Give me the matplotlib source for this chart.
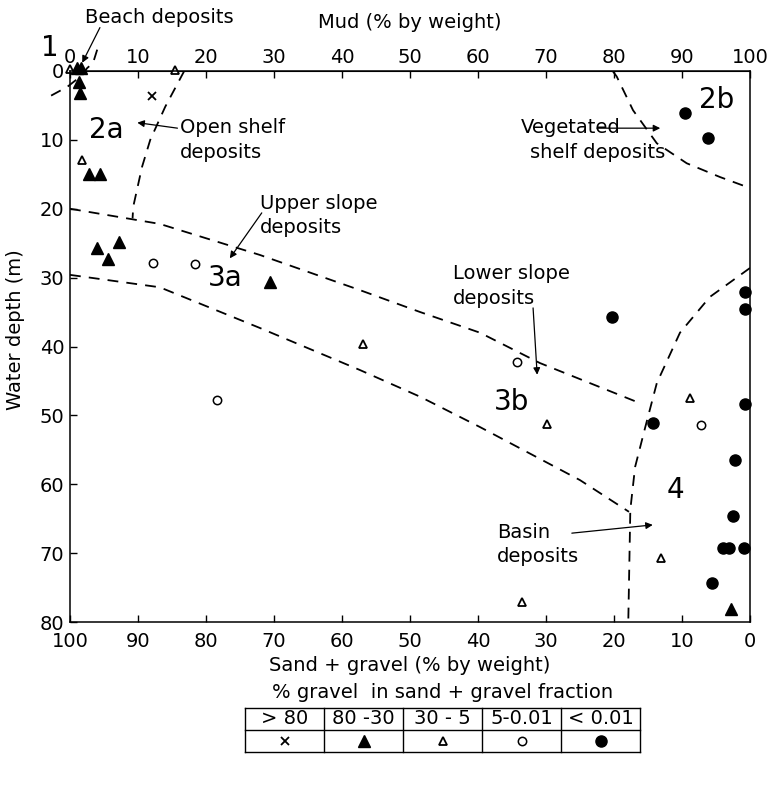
import matplotlib.pyplot as plt
import numpy as np

plt.rcParams['font.family'] = ['DejaVu Sans']

# ---- data: (mud %, water depth m) per gravel class ----
cross_mud = [12.1]
cross_depth = [3.7]

tri_filled_mud = [1.0, 1.6, 1.3, 1.4, 2.8, 4.4, 4.0, 5.6, 7.2, 29.4, 97.2]
tri_filled_depth = [-0.4, -0.4, 1.6, 3.2, 14.9, 14.9, 25.7, 27.3, 24.8, 30.6, 78.1]

tri_open_mud = [0.0, 15.4, 1.7, 43.1, 70.1, 91.2, 86.9, 66.5]
tri_open_depth = [-0.3, -0.2, 12.9, 39.6, 51.3, 47.5, 70.7, 77.1]

circ_open_mud = [12.2, 18.4, 21.6, 65.8, 92.8]
circ_open_depth = [27.9, 28.0, 47.8, 42.2, 51.4]

circ_filled_mud = [90.4, 93.8, 79.7, 99.3, 99.3, 99.3, 85.7, 97.8, 97.5, 96.1, 96.9, 99.1, 94.4]
circ_filled_depth = [6.1, 9.8, 35.7, 32.1, 34.6, 48.4, 51.1, 56.5, 64.6, 69.2, 69.2, 69.2, 74.3]

# ---- facies boundaries (mud %, depth) ----
beach_mud = [4.0, 3.4, 2.5, 1.8, -0.4, -3.2]
beach_depth = [-3.1, -1.2, -0.4, 0.6, 2.3, 3.8]

shelf_mud = [16.8, 14.0, 11.8, 10.6, 9.3, 9.2]
shelf_depth = [0.0, 5.2, 10.0, 13.9, 19.7, 21.4]

veg_mud = [79.8, 80.4, 82.8, 86.3, 90.7, 95.6, 100.0]
veg_depth = [0.0, 0.8, 5.7, 10.5, 13.4, 15.4, 17.0]

upper_mud = [0.0, 13.2, 27.9, 42.6, 51.5, 60.3, 69.1, 84.0]
upper_depth = [20.0, 22.2, 26.7, 31.8, 35.0, 38.0, 42.4, 48.3]

lower_mud = [0.0, 13.2, 27.9, 42.6, 51.5, 60.3, 75.0, 82.2]
lower_depth = [29.6, 31.4, 37.3, 43.4, 47.3, 51.7, 59.4, 64.0]

basin_mud = [100.0, 94.1, 89.7, 86.3, 84.6, 83.1, 82.4, 82.1]
basin_depth = [28.6, 32.8, 38.0, 45.3, 51.7, 57.5, 63.7, 80.0]

legend_labels = ['> 80', '80 -30', '30 - 5', '5-0.01', '< 0.01']

fig = plt.figure(figsize=(7.68, 7.89), dpi=100)
ax = fig.add_axes([70 / 768, 1 - 622 / 789, 680 / 768, 551 / 789])
ax.set_xlim(0, 100)
ax.set_ylim(80, 0)

dash = dict(color='black', lw=1.3, dashes=(6, 4.5))
ax.plot(beach_mud, beach_depth, clip_on=False, **dash)
ax.plot(shelf_mud, shelf_depth, **dash)
ax.plot(veg_mud, veg_depth, **dash)
ax.plot(upper_mud, upper_depth, **dash)
ax.plot(lower_mud, lower_depth, **dash)
ax.plot(basin_mud, basin_depth, **dash)

ax.plot(cross_mud, cross_depth, 'x', color='black', ms=6, mew=1.3, clip_on=False)
ax.plot(tri_filled_mud, tri_filled_depth, '^', color='black', ms=8, clip_on=False)
ax.plot(tri_open_mud, tri_open_depth, '^', mfc='white', mec='black', ms=6, mew=1.3, clip_on=False)
ax.plot(circ_open_mud, circ_open_depth, 'o', mfc='white', mec='black', ms=6, mew=1.1, clip_on=False)
ax.plot(circ_filled_mud, circ_filled_depth, 'o', color='black', ms=8, clip_on=False)

# axes & ticks
for s in ax.spines.values():
    s.set_linewidth(1.1)
ax.set_xticks(range(0, 101, 10))
ax.set_yticks(range(0, 81, 10))
ax.xaxis.set_major_formatter(plt.FuncFormatter(lambda v, p: f'{100 - v:.0f}'))
ax.tick_params(direction='in', length=5, width=1, labelsize=14, pad=4)
ax.tick_params(axis='x', pad=7)
ax.set_xlabel('Sand + gravel (% by weight)', fontsize=14, labelpad=4)
ax.set_ylabel('Water depth (m)', fontsize=14)
ax.yaxis.set_label_coords(-0.066, 0.53)

top = ax.secondary_xaxis('top')
top.set_xticks(range(0, 101, 10))
top.tick_params(direction='in', length=5, width=1, labelsize=14, pad=3)
top.set_xlabel('Mud (% by weight)', fontsize=14, labelpad=14)

# region labels and arrows
big = dict(fontsize=20, ha='center', va='center')
ax.text(-2.9, -3.3, '1', clip_on=False, **big)
ax.text(5.4, 8.6, '2a', **big)
ax.text(95.1, 4.2, '2b', **big)
ax.text(22.9, 30.1, '3a', **big)
ax.text(65.0, 48.1, '3b', **big)
ax.text(89.1, 60.8, '4', **big)

arr = dict(arrowstyle='-|>', color='black', lw=0.9, mutation_scale=10, shrinkA=0, shrinkB=0)
txt = dict(fontsize=14, ha='left', va='center', linespacing=1.35)

ax.text(2.2, -7.8, 'Beach deposits', clip_on=False, **txt)
ax.annotate('', xy=(1.8, -1.2), xytext=(4.4, -6.3), arrowprops=arr, annotation_clip=False)

ax.text(16.2, 10.0, 'Open shelf\ndeposits', **txt)
ax.annotate('', xy=(9.9, 7.5), xytext=(15.8, 8.3), arrowprops=arr)

ax.text(27.9, 21.0, 'Upper slope\ndeposits', **txt)
ax.annotate('', xy=(23.5, 27.2), xytext=(28.2, 20.6), arrowprops=arr)

ax.text(56.3, 31.2, 'Lower slope\ndeposits', **txt)
ax.annotate('', xy=(68.7, 44.1), xytext=(68.1, 34.4), arrowprops=arr)

ax.text(66.3, 8.2, 'Vegetated', **txt)
ax.text(67.6, 11.8, 'shelf deposits', **txt)
ax.annotate('', xy=(86.8, 8.3), xytext=(77.5, 8.3), arrowprops=arr)

ax.text(62.8, 68.8, 'Basin\ndeposits', **txt)
ax.annotate('', xy=(85.7, 65.9), xytext=(73.8, 67.1), arrowprops=arr)

# legend table (pixel layout)
lax = fig.add_axes([0, 0, 1, 1])
lax.set_xlim(0, 768)
lax.set_ylim(789, 0)
lax.axis('off')
x_edges = np.linspace(245, 640, 6)
y_rows = [708, 730, 752]
lax.text((x_edges[0] + x_edges[-1]) / 2, 692, '% gravel  in sand + gravel fraction',
         fontsize=14, ha='center', va='center')
for y in y_rows:
    lax.plot([x_edges[0], x_edges[-1]], [y, y], color='black', lw=1)
for x in x_edges:
    lax.plot([x, x], [y_rows[0], y_rows[-1]], color='black', lw=1)
centers = (x_edges[:-1] + x_edges[1:]) / 2
ymid_head = (y_rows[0] + y_rows[1]) / 2
ymid_sym = (y_rows[1] + y_rows[2]) / 2
for cx, lab in zip(centers, legend_labels):
    lax.text(cx, ymid_head, lab, fontsize=14, ha='center', va='center')
lax.plot(centers[0], ymid_sym, 'x', color='black', ms=6, mew=1.3)
lax.plot(centers[1], ymid_sym, '^', color='black', ms=8)
lax.plot(centers[2], ymid_sym, '^', mfc='white', mec='black', ms=6, mew=1.3)
lax.plot(centers[3], ymid_sym, 'o', mfc='white', mec='black', ms=6, mew=1.1)
lax.plot(centers[4], ymid_sym, 'o', color='black', ms=8)

fig.savefig('out.png', dpi=100)
